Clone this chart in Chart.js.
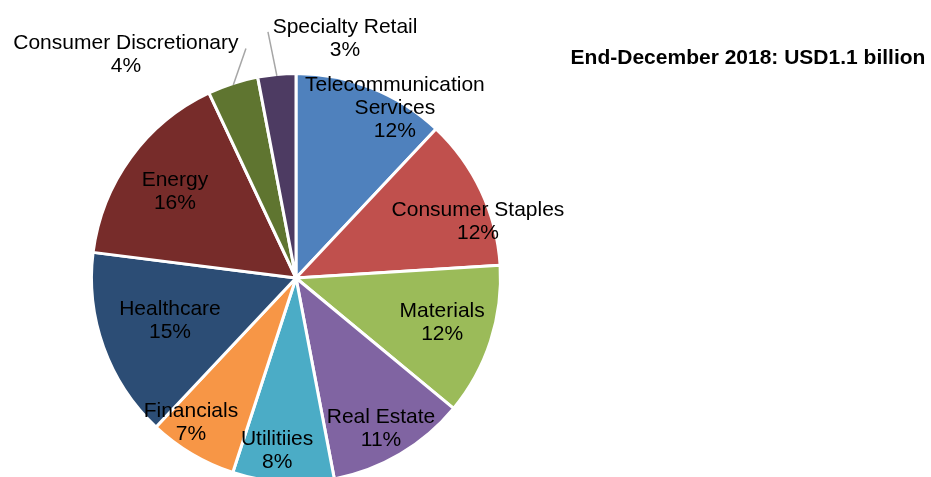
<!DOCTYPE html>
<html>
<head>
<meta charset="utf-8">
<script src="https://cdn.jsdelivr.net/npm/chart.js@4"></script>
<style>
    html, body { margin: 0; padding: 0; background: #fff; overflow: hidden; }
    #wrap { width: 931px; height: 490px; position: relative; }
</style>
</head>
<body>
<div id="wrap"><canvas id="chartCanvas"></canvas></div>
<script>
// sectors, clockwise from 12 o'clock
const sectors = [
    ['Telecommunication', 'Services'],
    ['Consumer Staples'],
    ['Materials'],
    ['Real Estate'],
    ['Utilitiies'],
    ['Financials'],
    ['Healthcare'],
    ['Energy'],
    ['Consumer Discretionary'],
    ['Specialty Retail']
];
const shares = [12, 12, 12, 11, 8, 7, 15, 16, 4, 3];
const sliceColors = ['#4F81BD', '#C0504D', '#9BBB59', '#8064A2', '#4BACC6',
                     '#F79646', '#2C4D75', '#772C2A', '#5F7530', '#4D3B62'];
const titleText = 'End-December 2018: USD1.1 billion';

// label placement: [fraction of radius, degrees off the slice middle]
const labelPlace = [
    [0.97, 8.3], [0.934, 7.5], [0.745, -1.6], [0.839, 0.9], [0.841, 2.7],
    [0.868, 5.7], [0.648, 1.8], [0.732, 0], [1.379, -19.1], [1.203, 16.9]
];
// leader lines for the small outside labels: index -> end point
const leaders = { 8: [1.149, 5.7], 9: [1.211, -1.1] };

const FONT = '21px "Liberation Sans", Arial, sans-serif';
const LINE_H = 23;

const labelPlugin = {
    id: 'sliceLabels',
    afterDatasetsDraw(chart) {
        const ctx = chart.ctx;
        const meta = chart.getDatasetMeta(0);
        ctx.save();
        meta.data.forEach((arc, i) => {
            const p = arc.getProps(['x', 'y', 'startAngle', 'endAngle', 'outerRadius'], true);
            const mid = (p.startAngle + p.endAngle) / 2;
            const edge = p.outerRadius - 1.5;

            if (leaders[i]) {
                const [lf, la] = leaders[i];
                const a2 = mid + la * Math.PI / 180;
                ctx.strokeStyle = '#A6A6A6';
                ctx.lineWidth = 1.5;
                ctx.beginPath();
                ctx.moveTo(p.x + Math.cos(mid) * edge, p.y + Math.sin(mid) * edge);
                ctx.lineTo(p.x + Math.cos(a2) * p.outerRadius * lf, p.y + Math.sin(a2) * p.outerRadius * lf);
                ctx.stroke();
            }

            const [rf, da] = labelPlace[i];
            const a = mid + da * Math.PI / 180;
            const cx = p.x + Math.cos(a) * p.outerRadius * rf;
            const cy = p.y + Math.sin(a) * p.outerRadius * rf + 2;
            const lines = sectors[i].concat([shares[i] + '%']);
            const top = cy - (lines.length - 1) * LINE_H / 2;
            ctx.font = FONT;
            ctx.fillStyle = '#000';
            ctx.textAlign = 'center';
            ctx.textBaseline = 'middle';
            lines.forEach((t, k) => ctx.fillText(t, cx, top + k * LINE_H));
        });

        ctx.font = 'bold 21px "Liberation Sans", Arial, sans-serif';
        ctx.textAlign = 'center';
        ctx.textBaseline = 'middle';
        ctx.fillText(titleText, 748, 58);
        ctx.restore();
    }
};

new Chart(document.getElementById('chartCanvas'), {
    type: 'pie',
    data: {
        labels: sectors.map(s => s.join(' ')),
        datasets: [{
            data: shares,
            backgroundColor: sliceColors,
            borderColor: '#FFFFFF',
            borderWidth: 3
        }]
    },
    options: {
        responsive: true,
        maintainAspectRatio: false,
        animation: false,
        layout: { padding: { left: 90, right: 429, top: 72, bottom: 6 } },
        plugins: {
            legend: { display: false },
            tooltip: { enabled: false }
        }
    },
    plugins: [labelPlugin]
});
</script>
</body>
</html>
